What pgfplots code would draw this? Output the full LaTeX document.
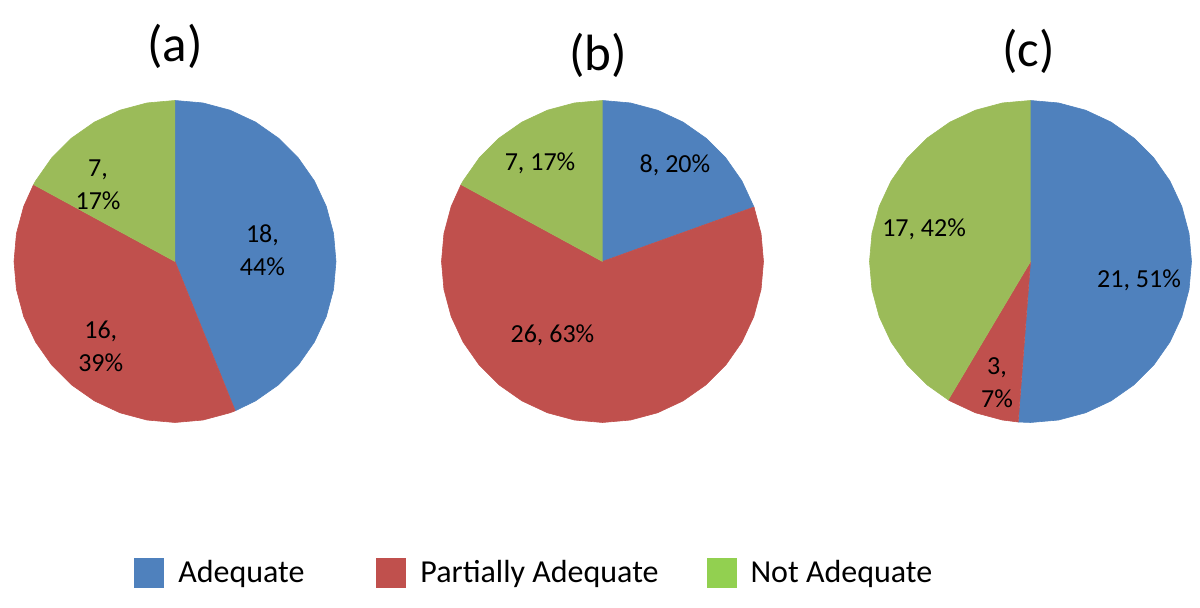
\documentclass[border=0pt]{standalone}
\usepackage{fontspec}
\setmainfont{Carlito}
\usepackage{pgfplots}
\pgfplotsset{compat=1.18}
\definecolor{cblue}{HTML}{4F81BD}
\definecolor{cred}{HTML}{C0504D}
\definecolor{cgreen}{HTML}{9BBB59}
\definecolor{lgreen}{HTML}{92D050}
\pgfplotsset{
  piechart/.style={
    width=161pt, height=161pt, scale only axis,
    xmin=-1, xmax=1, ymin=-1, ymax=1,
    hide axis, clip=false, anchor=center,
    data cs=polar,
  },
  wedge/.style={fill=#1, draw=#1, line width=0.3pt, line join=round, mark=none, forget plot},
}
\tikzset{
  lab/.style={font=\fontsize{13}{16.5}\selectfont, align=center, text=black},
  ttl/.style={font=\fontsize{25.5}{30}\selectfont},
}
\begin{document}
\begin{tikzpicture}
\useasboundingbox (0,0) rectangle (600pt,304pt);
% ---------------- (a): 18, 16, 7
\begin{axis}[piechart, at={(87.5pt,173.25pt)}]
\addplot[wedge=cblue] coordinates {(0,0) (90,1) (80,1) (70,1) (60,1) (50,1) (40,1) (30,1) (20,1) (10,1) (0,1) (-10,1) (-20,1) (-30,1) (-40,1) (-50,1) (-60,1) (-68.05,1)};
\addplot[wedge=cred] coordinates {(0,0) (-68.05,1) (-70,1) (-80,1) (-90,1) (-100,1) (-110,1) (-120,1) (-130,1) (-140,1) (-150,1) (-160,1) (-170,1) (-180,1) (-190,1) (-200,1) (-208.54,1)};
\addplot[wedge=cgreen] coordinates {(0,0) (-208.54,1) (-210,1) (-220,1) (-230,1) (-240,1) (-250,1) (-260,1) (-270,1)};
\node[lab] at (axis cs:0.543,0.073) {18,\\44\%};
\node[lab] at (axis cs:-0.461,-0.529) {16,\\39\%};
\node[lab] at (axis cs:-0.478,0.475) {7,\\17\%};
\node[ttl] at (axis cs:0,1.339) {(a)};
\end{axis}
% ---------------- (b): 8, 26, 7
\begin{axis}[piechart, at={(301.25pt,173.25pt)},
  legend columns=3,
  legend style={at={(-0.974,-0.467)}, anchor=west, draw=none, fill=none,
    font=\fontsize{16}{19}\selectfont,
    /tikz/every even column/.append style={column sep=22pt}},
  legend image code/.code={\fill[#1, draw=none] (0pt,-7.5pt) rectangle (15pt,7.5pt); \path[draw=none, fill=none] (0pt,0pt) -- (20pt,0pt);},
]
\addplot[wedge=cblue] coordinates {(0,0) (90,1) (80,1) (70,1) (60,1) (50,1) (40,1) (30,1) (19.76,1)};
\addplot[wedge=cred] coordinates {(0,0) (19.76,1) (10,1) (0,1) (-10,1) (-20,1) (-30,1) (-40,1) (-50,1) (-60,1) (-70,1) (-80,1) (-90,1) (-100,1) (-110,1) (-120,1) (-130,1) (-140,1) (-150,1) (-160,1) (-170,1) (-180,1) (-190,1) (-200,1) (-208.54,1)};
\addplot[wedge=cgreen] coordinates {(0,0) (-208.54,1) (-210,1) (-220,1) (-230,1) (-240,1) (-250,1) (-260,1) (-270,1)};
\node[lab] at (axis cs:0.45,0.596) {8, 20\%};
\node[lab] at (axis cs:-0.311,-0.457) {26, 63\%};
\node[lab] at (axis cs:-0.388,0.612) {7, 17\%};
\node[ttl] at (axis cs:-0.028,1.283) {(b)};
\addlegendimage{fill=cblue, draw=none}
\addlegendentry{Adequate\kern12pt}
\addlegendimage{fill=cred, draw=none}
\addlegendentry{Partially Adequate}
\addlegendimage{fill=lgreen, draw=none}
\addlegendentry{Not Adequate}
\end{axis}
% ---------------- (c): 21, 3, 17
\begin{axis}[piechart, at={(515.25pt,173.25pt)}]
\addplot[wedge=cblue] coordinates {(0,0) (90,1) (80,1) (70,1) (60,1) (50,1) (40,1) (30,1) (20,1) (10,1) (0,1) (-10,1) (-20,1) (-30,1) (-40,1) (-50,1) (-60,1) (-70,1) (-80,1) (-90,1) (-94.39,1)};
\addplot[wedge=cred] coordinates {(0,0) (-94.39,1) (-100,1) (-110,1) (-120,1) (-120.73,1)};
\addplot[wedge=cgreen] coordinates {(0,0) (-120.73,1) (-130,1) (-140,1) (-150,1) (-160,1) (-170,1) (-180,1) (-190,1) (-200,1) (-210,1) (-220,1) (-230,1) (-240,1) (-250,1) (-260,1) (-270,1)};
\node[lab] at (axis cs:0.674,-0.115) {21, 51\%};
\node[lab] at (axis cs:-0.208,-0.755) {3,\\7\%};
\node[lab] at (axis cs:-0.661,0.199) {17, 42\%};
\node[ttl] at (axis cs:-0.012,1.307) {(c)};
\end{axis}
\end{tikzpicture}
\end{document}
